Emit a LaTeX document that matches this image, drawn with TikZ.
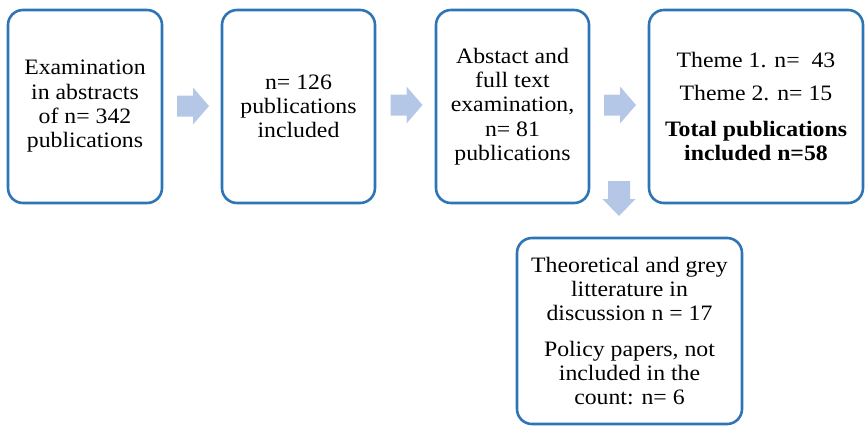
\documentclass[tikz,border=0pt]{standalone}
\usepackage{fontspec}
\setmainfont[FakeStretch=1.08]{Liberation Serif}
\definecolor{boxblue}{RGB}{46,117,182}
\definecolor{arrowfill}{RGB}{180,199,231}
\begin{document}
\begin{tikzpicture}[x=1pt,y=-1pt,
  box/.style={draw=boxblue, line width=2.6pt, rounded corners=15pt, fill=white,
    align=center, inner sep=0pt, minimum height=193pt,
    font=\fontsize{22}{24.3}\selectfont},
  rarr/.pic={\fill[arrowfill] (-16,-10.5) -- (0,-10.5) -- (0,-18.5) -- (16,0) -- (0,18.5) -- (0,10.5) -- (-16,10.5) -- cycle;},
  darr/.pic={\fill[arrowfill] (-11,-17.5) -- (11,-17.5) -- (11,0.5) -- (16.5,0.5) -- (0,17.5) -- (-16.5,0.5) -- (-11,0.5) -- cycle;}
]
\useasboundingbox (0,0) rectangle (866,426);
\node[box, minimum width=154pt] (b1) at (85,106.5) {Examination\\in abstracts\\of n= 342\\publications};
\node[box, minimum width=153pt] (b2) at (298.5,106.5) {n= 126\\publications\\included};
\node[box, minimum width=153pt] (b3) at (512.5,106.5) {Abstact and\\full text\\examination,\\n= 81\\publications};
\node[box, minimum width=214pt] (b4) at (756,106.5) {Theme 1. n=~ 43\\[9pt]Theme 2. n= 15\\[12pt]\textbf{Total publications}\\\textbf{included n=58}};
\node[box, minimum width=225pt, minimum height=186pt] (b5) at (629.5,331) {Theoretical and grey\\litterature in\\discussion n = 17\\[11pt]Policy papers, not\\included in the\\count: n= 6};
\pic (a1) at (193,106) {rarr};
\pic (a2) at (406.5,105) {rarr};
\pic (a3) at (620,105) {rarr};
\pic (a4) at (619,198.5) {darr};
\end{tikzpicture}
\end{document}
